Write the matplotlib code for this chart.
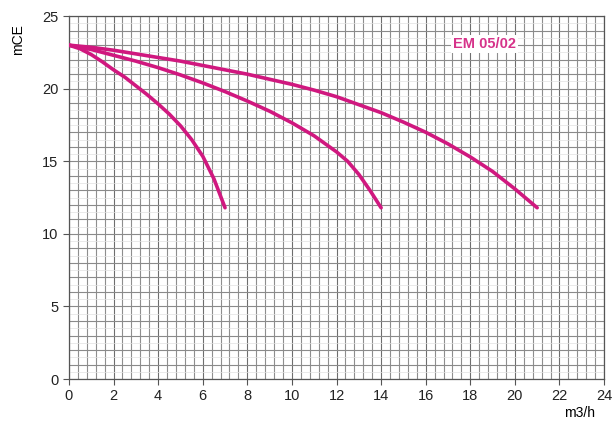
import numpy as np
import matplotlib
matplotlib.use("Agg")
import matplotlib.pyplot as plt

plt.rcParams['font.family'] = ['Liberation Sans', 'DejaVu Sans']

# pump curves (flow m3/h, head mCE)
q1 = [0, 0.5, 1, 1.5, 2, 2.5, 3, 3.5, 4, 4.5, 5, 5.5, 6, 6.5, 7]
h1 = [23.0, 22.75, 22.35, 21.85, 21.3, 20.8, 20.2, 19.6, 18.95, 18.25,
      17.45, 16.5, 15.35, 13.8, 11.8]

q2 = [0, 1, 2, 3, 4, 5, 6, 7, 8, 9, 10, 11, 12, 12.5, 13, 13.5, 14]
h2 = [23.0, 22.7, 22.3, 21.9, 21.45, 20.95, 20.4, 19.8, 19.15, 18.45,
      17.65, 16.75, 15.65, 15.0, 14.1, 13.0, 11.8]

q3 = list(range(0, 22))
h3 = [23.0, 22.85, 22.65, 22.4, 22.15, 21.9, 21.6, 21.3, 21.0, 20.65, 20.3,
      19.9, 19.45, 18.9, 18.35, 17.7, 17.0, 16.2, 15.3, 14.3, 13.1, 11.8]

x_ticks = list(range(0, 25, 2))
y_ticks = [0, 5, 10, 15, 20, 25]
model = "EM 05/02"

curve_color = '#d0187f'

fig = plt.figure(figsize=(6.12, 4.24), dpi=100)
ax = fig.add_axes([0.1127, 0.106, 0.8743, 0.856])

# grid: vertical every 0.4, horizontal every 1 with faint half lines
for x in np.arange(0, 24.01, 0.4):
    dark = abs(x / 2 - round(x / 2)) < 1e-6
    ax.axvline(x, color='#6e6e6e' if dark else '#8e8e8e', lw=0.8, zorder=1)
for y in np.arange(0, 25.01, 0.5):
    whole = abs(y - round(y)) < 1e-6
    ax.axhline(y, color='#8a8a8a' if whole else '#e2e2e2', lw=0.8 if whole else 0.5, zorder=1)

for q, h in [(q1, h1), (q2, h2), (q3, h3)]:
    ax.plot(q, h, color=curve_color, lw=2.6, solid_capstyle='round',
            solid_joinstyle='round', zorder=3)

ax.set_xlim(0, 24)
ax.set_ylim(0, 25)
ax.set_xticks(x_ticks)
ax.set_yticks(y_ticks)
ax.tick_params(labelsize=10.5, length=4, color='#555555', labelcolor='#222222')
for s in ax.spines.values():
    s.set_color('#555555')
    s.set_linewidth(0.9)

ax.text(18.65, 23.1, model, color='#d6338a', fontsize=10.5, fontweight='bold',
        ha='center', va='center', zorder=4,
        bbox=dict(facecolor='white', edgecolor='none', pad=1.5))

fig.text(18 / 612, 1 - 40 / 424, 'mCE', rotation=90, fontsize=10, ha='center', va='center')
fig.text(580 / 612, 1 - 413 / 424, 'm3/h', fontsize=10, ha='center', va='center')

fig.savefig('out.png', dpi=100)
